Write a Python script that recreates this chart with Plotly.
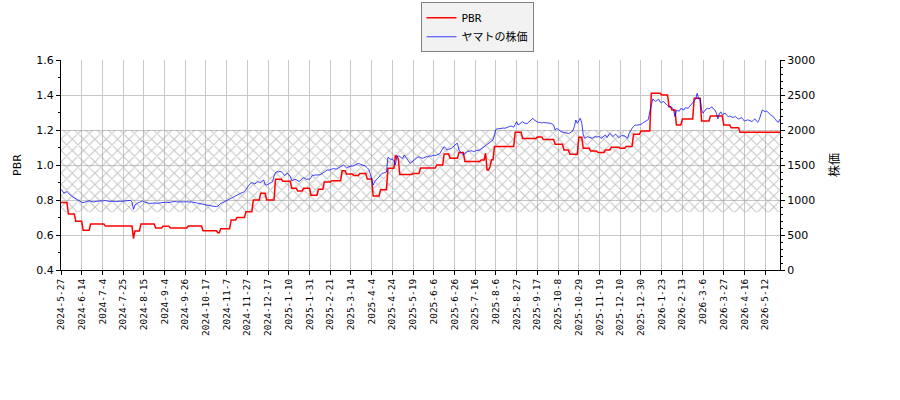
import pandas as pd
import plotly.graph_objects as go

START_DATE = "2024-05-27"
HOLIDAYS = [
    "2024-07-15", "2024-08-12", "2024-09-16", "2024-09-23", "2024-10-14", "2024-11-04",
    "2024-12-31", "2025-01-01", "2025-01-02", "2025-01-03", "2025-01-13", "2025-02-11",
    "2025-02-24", "2025-03-20", "2025-04-29", "2025-05-05", "2025-05-06", "2025-07-21",
    "2025-08-11", "2025-09-15", "2025-09-23", "2025-10-13", "2025-11-03", "2025-11-24",
    "2025-12-31", "2026-01-01", "2026-01-02", "2026-01-12", "2026-02-11", "2026-02-23",
    "2026-03-20", "2026-04-29", "2026-05-04", "2026-05-05", "2026-05-06",
]

TICK_LABELS = [
    "2024-5-27", "2024-6-14", "2024-7-4", "2024-7-25", "2024-8-15", "2024-9-4", "2024-9-26",
    "2024-10-17", "2024-11-7", "2024-11-27", "2024-12-17", "2025-1-10", "2025-1-31",
    "2025-2-21", "2025-3-14", "2025-4-4", "2025-4-24", "2025-5-19", "2025-6-6", "2025-6-26",
    "2025-7-16", "2025-8-6", "2025-8-27", "2025-9-17", "2025-10-8", "2025-10-29",
    "2025-11-19", "2025-12-10", "2025-12-30", "2026-1-23", "2026-2-13", "2026-3-6",
    "2026-3-27", "2026-4-16", "2026-5-12",
]

# daily close of ヤマト (yen), one row per 14 trading days
PRICE = [
    1153, 1130, 1100, 1105, 1120, 1100, 1075, 1057, 1045, 1030, 1020, 1005, 990, 975,
    967, 962, 968, 975, 986, 988, 980, 975, 972, 978, 982, 990, 992, 988,
    985, 990, 993, 988, 980, 978, 983, 986, 980, 976, 982, 986, 984, 980,
    982, 986, 990, 992, 995, 995, 970, 867, 929, 950, 958, 967, 980, 986,
    975, 965, 958, 955, 952, 955, 950, 953, 957, 952, 955, 962, 967, 968,
    965, 970, 967, 963, 970, 975, 972, 978, 975, 971, 973, 975, 970, 972,
    975, 972, 969, 971, 974, 970, 968, 965, 958, 952, 950, 953, 945, 935,
    929, 931, 925, 918, 914, 916, 910, 905, 912, 935, 952, 960, 970, 976,
    985, 998, 1010, 1022, 1035, 1048, 1060, 1075, 1085, 1095, 1102, 1110, 1119, 1150,
    1190, 1210, 1235, 1248, 1240, 1230, 1245, 1262, 1255, 1248, 1270, 1286, 1220, 1214,
    1225, 1238, 1250, 1262, 1340, 1390, 1405, 1400, 1410, 1405, 1381, 1350, 1365, 1381,
    1360, 1333, 1276, 1285, 1295, 1290, 1275, 1262, 1285, 1305, 1320, 1305, 1295, 1300,
    1295, 1320, 1357, 1350, 1360, 1355, 1362, 1357, 1370, 1380, 1395, 1410, 1429, 1425,
    1429, 1440, 1450, 1445, 1440, 1452, 1465, 1470, 1485, 1500, 1480, 1460, 1470, 1478,
    1485, 1482, 1490, 1500, 1512, 1524, 1515, 1508, 1500, 1495, 1480, 1460, 1438, 1380,
    1310, 1214, 1260, 1290, 1310, 1330, 1350, 1381, 1385, 1395, 1400, 1610, 1590, 1580,
    1585, 1560, 1500, 1620, 1629, 1625, 1600, 1595, 1643, 1610, 1580, 1550, 1524, 1540,
    1560, 1575, 1600, 1610, 1619, 1605, 1595, 1600, 1612, 1620, 1615, 1629, 1625, 1632,
    1640, 1635, 1643, 1650, 1660, 1700, 1740, 1762, 1740, 1714, 1725, 1735, 1738, 1760,
    1785, 1800, 1810, 1714, 1690, 1660, 1643, 1665, 1690, 1700, 1695, 1705, 1700, 1690,
    1700, 1710, 1705, 1714, 1730, 1745, 1760, 1775, 1786, 1800, 1820, 1840, 1857, 1930,
    2010, 2015, 2020, 2024, 2020, 2028, 2024, 2030, 2035, 2045, 2057, 2050, 2040, 2080,
    2119, 2071, 2090, 2105, 2119, 2100, 2095, 2090, 2110, 2130, 2150, 2167, 2140, 2130,
    2120, 2105, 2110, 2100, 2108, 2105, 2112, 2100, 2105, 2095, 2085, 2071, 2000, 2024,
    2010, 1990, 1976, 1970, 1965, 1958, 1952, 1950, 1958, 1970, 1990, 2050, 2143, 2095,
    2130, 2167, 2100, 1929, 1881, 1895, 1905, 1895, 1888, 1881, 1895, 1905, 1900, 1908,
    1905, 1881, 1895, 1915, 1929, 1890, 1920, 1952, 1930, 1905, 1925, 1940, 1915, 1890,
    1905, 1920, 1918, 1915, 1900, 1881, 1952, 2000, 2024, 2050, 2071, 2068, 2071, 2075,
    2080, 2095, 2110, 2119, 2135, 2150, 2262, 2381, 2443, 2425, 2410, 2425, 2440, 2400,
    2390, 2410, 2385, 2370, 2350, 2333, 2335, 2320, 2300, 2190, 2280, 2275, 2270, 2310,
    2295, 2286, 2320, 2315, 2310, 2340, 2367, 2400, 2429, 2440, 2524, 2445, 2450, 2286,
    2240, 2270, 2300, 2310, 2300, 2320, 2330, 2300, 2286, 2240, 2160, 2230, 2260, 2220,
    2230, 2240, 2210, 2190, 2200, 2185, 2180, 2185, 2190, 2170, 2157, 2165, 2180, 2150,
    2129, 2135, 2145, 2140, 2130, 2120, 2140, 2160, 2130, 2110, 2150, 2220, 2286, 2275,
    2262, 2270, 2250, 2220, 2210, 2200, 2180, 2150, 2120, 2110, 2160,
]

# PBR level and number of trading days it holds (run-length)
PBR_LEVELS = [
    0.785, 0.72, 0.678, 0.627, 0.663, 0.651, 0.58, 0.623, 0.663, 0.64, 0.65, 0.64, 0.651,
    0.624, 0.613, 0.636, 0.686, 0.70, 0.733, 0.80, 0.838, 0.80, 0.918, 0.907, 0.867, 0.851,
    0.867, 0.827, 0.861, 0.903, 0.91, 0.967, 0.948, 0.94, 0.952, 0.92, 0.823, 0.859, 0.981,
    1.051, 1.035, 0.945, 0.952, 0.983, 1.0, 1.063, 1.038, 1.071, 1.02, 1.029, 1.067, 0.971,
    0.99, 1.03, 1.105, 1.187, 1.152, 1.16, 1.145, 1.118, 1.086, 1.061, 1.158, 1.095, 1.08,
    1.071, 1.086, 1.101, 1.095, 1.105, 1.175, 1.194, 1.41, 1.40, 1.333, 1.314, 1.229, 1.263,
    1.381, 1.251, 1.28, 1.229, 1.213, 1.187,
]
PBR_DAYS = [
    5, 5, 5, 5, 10, 19, 1, 4, 10, 5, 5, 12, 10,
    10, 2, 7, 4, 6, 5, 5, 4, 6, 5, 6, 4, 4,
    5, 5, 4, 5, 7, 3, 5, 4, 5, 4, 5, 5, 5,
    2, 1, 9, 5, 11, 5, 4, 6, 4, 11, 3, 1, 2,
    1, 2, 14, 5, 10, 4, 8, 6, 4, 6, 3, 5, 5,
    5, 4, 6, 4, 5, 5, 7, 7, 5, 2, 3, 4, 8,
    5, 6, 9, 5, 6, 28,
]

BAND = [0.73, 1.2]  # hatched PBR band

n = len(PRICE)
days = pd.bdate_range(start=START_DATE, periods=n, freq="C", holidays=HOLIDAYS)
dates = [f"{d.year}-{d.month}-{d.day}" for d in days]
pbr = []
for v, k in zip(PBR_LEVELS, PBR_DAYS):
    pbr += [v] * k
pbr = pbr[:n]

fig = go.Figure()
fig.add_trace(go.Scatter(
    x=[dates[0], dates[-1], dates[-1], dates[0], dates[0]],
    y=[BAND[0], BAND[0], BAND[1], BAND[1], BAND[0]],
    mode="lines", line=dict(width=0), fill="toself",
    fillcolor="rgba(0,0,0,0)",
    fillpattern=dict(shape="x", fgcolor="#8c8c8c", bgcolor="rgba(0,0,0,0)", size=8, solidity=0.25),
    showlegend=False, hoverinfo="skip",
))
fig.add_trace(go.Scatter(x=dates, y=pbr, name="PBR", mode="lines",
                         line=dict(color="red", width=1.5)))
fig.add_trace(go.Scatter(x=dates, y=PRICE, name="ヤマトの株価", mode="lines", yaxis="y2",
                         line=dict(color="rgba(0,0,255,0.75)", width=1)))

grid = "#c8c8c8"
fig.update_layout(
    width=900, height=400, autosize=False,
    margin=dict(l=61, r=120, t=60, b=130, autoexpand=False),
    paper_bgcolor="white", plot_bgcolor="white",
    font=dict(family="DejaVu Sans, Noto Sans CJK JP", size=11, color="black"),
    xaxis=dict(
        type="category", categoryorder="array", categoryarray=dates, range=[0, n - 1],
        tickmode="array", tickvals=TICK_LABELS, ticktext=TICK_LABELS,
        tickangle=-90, tickfont=dict(family="DejaVu Sans Mono", size=9.5, color="black"),
        ticks="outside", ticklen=4, tickcolor="black",
        showline=True, linecolor="black", linewidth=1,
        showgrid=True, gridcolor=grid, gridwidth=1, zeroline=False,
    ),
    yaxis=dict(
        range=[0.4, 1.6], tick0=0.4, dtick=0.2, tickformat=".1f",
        ticks="outside", ticklen=4, tickcolor="black",
        tickfont=dict(family="DejaVu Sans", size=11),
        showline=True, linecolor="black", linewidth=1,
        showgrid=True, gridcolor=grid, gridwidth=1, zeroline=False,
        minor=dict(ticks="outside", ticklen=2, dtick=0.1, tickcolor="black", showgrid=False),
        title=dict(text="PBR", font=dict(family="DejaVu Sans", size=11), standoff=12),
    ),
    yaxis2=dict(
        overlaying="y", side="right", range=[0, 3000], tick0=0, dtick=500,
        ticks="outside", ticklen=4, tickcolor="black",
        tickfont=dict(family="DejaVu Sans", size=11),
        showline=True, linecolor="black", linewidth=1,
        showgrid=False, zeroline=False,
        minor=dict(ticks="outside", ticklen=2, dtick=100, tickcolor="black", showgrid=False),
        title=dict(text="株価", font=dict(family="Noto Sans CJK JP", size=12), standoff=16),
    ),
    legend=dict(
        x=0.50, y=1.275, xanchor="left", yanchor="top",
        bgcolor="#f2f2f2", bordercolor="#808080", borderwidth=1,
        itemwidth=30, tracegroupgap=0,
        font=dict(family="DejaVu Sans Mono, Noto Sans CJK JP", size=11),
    ),
)

fig.write_html("out.html", config={"displayModeBar": False},
               post_script="document.body.style.margin='0';")
